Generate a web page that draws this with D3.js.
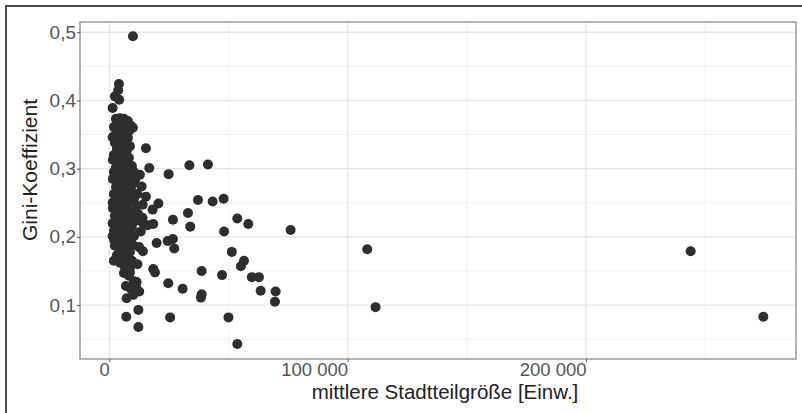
<!DOCTYPE html>
<html>
<head>
<meta charset="utf-8">
<script src="https://cdn.jsdelivr.net/npm/d3@7"></script>
<style>
  body { margin: 0; background: #fff; }
  svg { display: block; font-family: "Liberation Sans", Arial, sans-serif; }
</style>
</head>
<body>
<div id="chart"></div>
<script>
// Stadtteile: [mittlere Stadtteilgröße, Gini-Koeffizient]
var punkte = [
  [2770,0.373],[4450,0.374],[6130,0.373],[7800,0.370],[3610,0.367],[5290,0.366],[6970,0.364],[9060,0.363],
  [1930,0.361],[4030,0.358],[6130,0.357],[8220,0.355],[9900,0.360],[2770,0.352],[4870,0.349],[6970,0.351],
  [1400,0.346],[3000,0.340],[3610,0.344],[5710,0.342],[7800,0.345],
  [2350,0.338],[4450,0.335],[6550,0.336],[8640,0.333],[3190,0.329],[5290,0.326],[7390,0.327],[1930,0.320],
  [4030,0.317],[6130,0.319],[8220,0.316],[1510,0.313],[3610,0.309],[5710,0.310],[7800,0.305],[2770,0.302],
  [4870,0.301],[6970,0.300],[9480,0.304],
  [1930,0.295],[4030,0.292],[6130,0.294],[8220,0.291],[10320,0.295],[1510,0.285],[3610,0.282],[5710,0.283],
  [7800,0.280],[9900,0.278],[2770,0.273],[4870,0.270],[6970,0.272],[9060,0.269],[1930,0.263],[4030,0.260],
  [6130,0.261],[8220,0.259],[10320,0.256],[1400,0.250],[2770,0.253],[4870,0.250],[6970,0.249],[9060,0.251],
  [11160,0.246],
  [1510,0.242],[3610,0.239],[5710,0.241],[7800,0.238],[9900,0.235],[12000,0.234],[2350,0.231],[4450,0.228],
  [6550,0.229],[8640,0.226],[10740,0.223],[1400,0.220],[3190,0.217],[5290,0.219],[7390,0.216],[9480,0.213],
  [1930,0.209],[4030,0.206],[6130,0.207],[8220,0.204],[10320,0.201],[1400,0.201],
  [2000,0.196],[3610,0.195],[5710,0.194],[7800,0.191],[9900,0.188],[2350,0.187],[4450,0.184],[6550,0.181],
  [8640,0.178],[3190,0.173],[5290,0.170],[7390,0.168],[9480,0.165],[4450,0.162],[6550,0.158],[8640,0.155],
  [4030,0.175],[1930,0.165],[6130,0.147],[8220,0.143],[10320,0.135],[6970,0.128],[9060,0.124],[11160,0.130],
  [9900,0.494],[4030,0.424],[3730,0.415],[2350,0.406],[4150,0.401],[1400,0.389],
  [15360,0.330],[16750,0.301],[24880,0.292],[33600,0.305],[41380,0.306],[37200,0.254],[43350,0.252],[47960,0.256],
  [33000,0.235],[26690,0.225],[33950,0.215],[53700,0.227],[58290,0.219],[48150,0.208],[76080,0.210],[20600,0.249],
  [18170,0.240],[13970,0.221],[16070,0.217],[18420,0.219],[19850,0.191],[24460,0.194],[26690,0.197],[27230,0.183],
  [14100,0.179],[51400,0.178],[56500,0.165],[55200,0.157],[59800,0.141],[62780,0.141],[63490,0.121],[69780,0.120],
  [69490,0.105],[18420,0.153],[19140,0.148],[38730,0.150],[47300,0.144],[24720,0.132],[30760,0.124],[38730,0.116],
  [38440,0.111],[12200,0.093],[7100,0.083],[25500,0.082],[50000,0.082],[12200,0.068],[53700,0.043],[7260,0.110],
  [10030,0.115],[12550,0.120],[8640,0.148],[11460,0.134],[4450,0.166],[6550,0.156],
  [12840,0.291],[10740,0.283],[13550,0.274],[11710,0.263],[15360,0.259],[14000,0.247],[13200,0.208],[12500,0.185],
  [13900,0.228],[11800,0.160],
  [108200,0.182],[111700,0.097],[243900,0.179],[274400,0.083]
]

var xTicks = [0, 100000, 200000]
var xMinor = [50000, 150000, 250000]
var yTicks = [0.1, 0.2, 0.3, 0.4, 0.5]
var yMinor = [0.05, 0.15, 0.25, 0.35, 0.45]

var width = 802, height = 413
var panel = { left: 80, right: 796, top: 22, bottom: 359 }

var de = d3.formatLocale({ decimal: ",", thousands: " ", grouping: [3], currency: ["", " €"] })
var fmtX = de.format(",.0f")
var fmtY = de.format(".1f")

var svg = d3.select("#chart")
  .append("svg")
  .attr("width", width)
  .attr("height", height)

var x = d3.scaleLinear().domain([-12300, 288100]).range([panel.left, panel.right])
var y = d3.scaleLinear().domain([0.021, 0.515]).range([panel.bottom, panel.top])

// outer frame (only top and left edge are visible)
svg.append("line").attr("x1", 5).attr("x2", width).attr("y1", 6).attr("y2", 6)
  .attr("stroke", "#4a4a4a").attr("stroke-width", 2)
svg.append("line").attr("x1", 6).attr("x2", 6).attr("y1", 5).attr("y2", height)
  .attr("stroke", "#4a4a4a").attr("stroke-width", 2)

// grid
var grid = svg.append("g")
grid.selectAll(".xminor").data(xMinor).enter().append("line")
  .attr("x1", d => x(d)).attr("x2", d => x(d))
  .attr("y1", panel.top).attr("y2", panel.bottom)
  .attr("stroke", "#f2f2f2").attr("stroke-width", 1)
grid.selectAll(".yminor").data(yMinor).enter().append("line")
  .attr("x1", panel.left).attr("x2", panel.right)
  .attr("y1", d => y(d)).attr("y2", d => y(d))
  .attr("stroke", "#f2f2f2").attr("stroke-width", 1)
grid.selectAll(".xmajor").data(xTicks).enter().append("line")
  .attr("x1", d => x(d)).attr("x2", d => x(d))
  .attr("y1", panel.top).attr("y2", panel.bottom)
  .attr("stroke", "#e6e6e6").attr("stroke-width", 1.3)
grid.selectAll(".ymajor").data(yTicks).enter().append("line")
  .attr("x1", panel.left).attr("x2", panel.right)
  .attr("y1", d => y(d)).attr("y2", d => y(d))
  .attr("stroke", "#e6e6e6").attr("stroke-width", 1.3)

// points
svg.append("g").selectAll("circle")
  .data(punkte)
  .enter()
  .append("circle")
  .attr("cx", d => x(d[0]))
  .attr("cy", d => y(d[1]))
  .attr("r", 5)
  .attr("fill", "#2e2e2e")

// panel border
svg.append("rect")
  .attr("x", panel.left).attr("y", panel.top)
  .attr("width", panel.right - panel.left).attr("height", panel.bottom - panel.top)
  .attr("fill", "none").attr("stroke", "#8a8a8a").attr("stroke-width", 1.3)

// axes
var xAxis = svg.append("g")
  .attr("transform", "translate(0," + panel.bottom + ")")
  .call(d3.axisBottom(x).tickValues(xTicks).tickFormat(fmtX).tickSize(3).tickPadding(1))
xAxis.select(".domain").remove()
xAxis.selectAll(".tick line").attr("stroke", "#555")
xAxis.selectAll(".tick text")
  .attr("text-anchor", "end")
  .attr("font-size", 18.5)
  .attr("font-family", "Liberation Sans, Arial, sans-serif")
  .attr("fill", "#555")

var yAxis = svg.append("g")
  .attr("transform", "translate(" + panel.left + ",0)")
  .call(d3.axisLeft(y).tickValues(yTicks).tickFormat(fmtY).tickSize(3).tickPadding(1))
yAxis.select(".domain").remove()
yAxis.selectAll(".tick line").attr("stroke", "#555")
yAxis.selectAll(".tick text")
  .attr("font-size", 19)
  .attr("font-family", "Liberation Sans, Arial, sans-serif")
  .attr("fill", "#555")

// titles
svg.append("text")
  .attr("x", 445).attr("y", 398.5)
  .attr("text-anchor", "middle")
  .attr("font-size", 20.5)
  .attr("fill", "#222")
  .text("mittlere Stadtteilgröße [Einw.]")

svg.append("text")
  .attr("transform", "translate(37,170) rotate(-90)")
  .attr("text-anchor", "middle")
  .attr("font-size", 21)
  .attr("fill", "#222")
  .text("Gini-Koeffizient")
</script>
</body>
</html>
